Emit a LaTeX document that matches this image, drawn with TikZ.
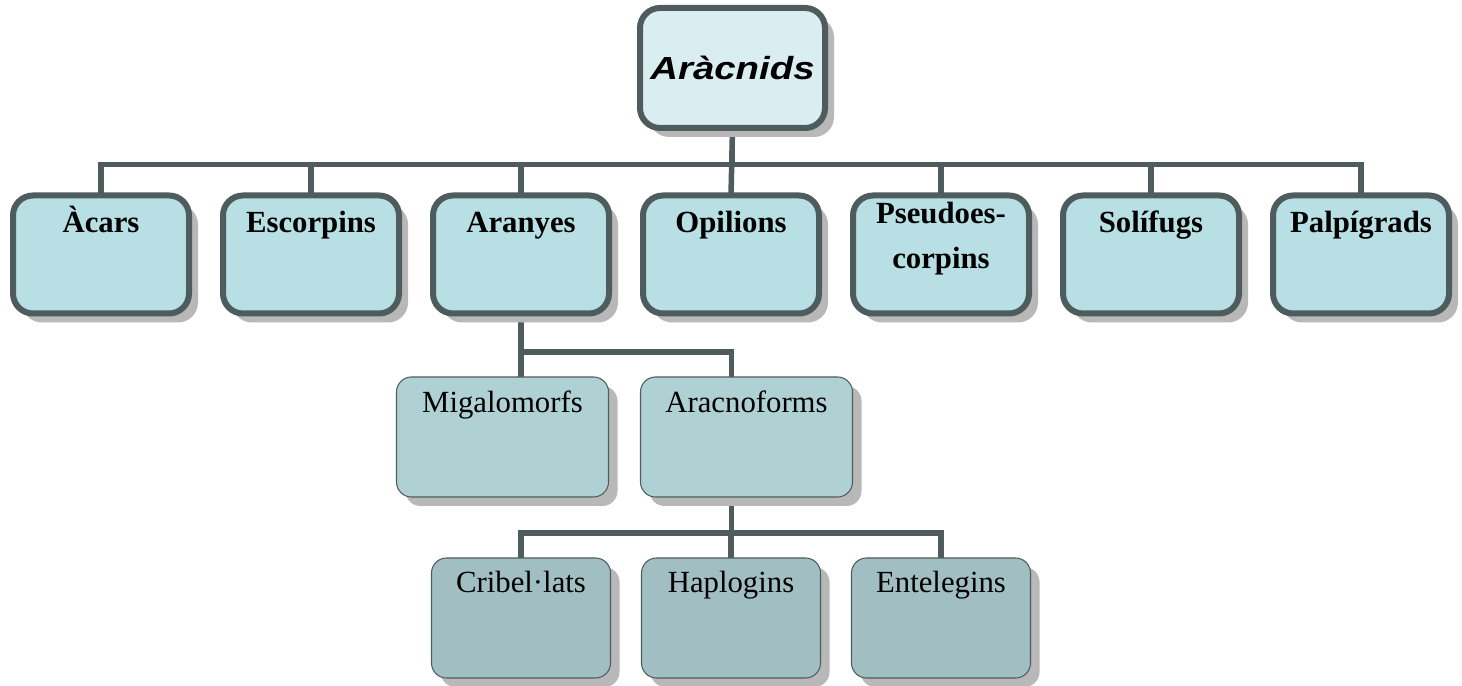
\documentclass[tikz,border=0pt]{standalone}
\usepackage{xcolor}
\usepackage{fontspec}
\setmainfont{Liberation Serif}
\newfontfamily\arialfont[FakeStretch=1.2]{Liberation Sans}
\usepackage{tikz}
\usetikzlibrary{shapes,positioning,calc,shadows,backgrounds}

\definecolor{framegray}{RGB}{78,92,93}
\definecolor{topfill}{RGB}{218,238,241}
\definecolor{ordfill}{RGB}{184,224,228}
\definecolor{subfill}{RGB}{175,209,212}
\definecolor{infrafill}{RGB}{161,191,194}

\begin{document}
\begin{tikzpicture}[
    boxshadow/.style={drop shadow={shadow xshift=0.18cm, shadow yshift=-0.18cm, fill=black!28, opacity=1}},
    classbox/.style={rectangle, rounded corners=0.4cm, draw=framegray, line width=0.12cm, fill=topfill, boxshadow, outer sep=0pt, minimum width=3.7cm, minimum height=2.4cm, font=\arialfont\bfseries\itshape\fontsize{18.2}{22}\selectfont},
    orderbox/.style={rectangle, rounded corners=0.4cm, draw=framegray, line width=0.12cm, fill=ordfill, boxshadow, outer sep=0pt, minimum width=3.52cm, inner ysep=0pt, text height=0.74cm, text depth=1.62cm, align=center, font=\bfseries\fontsize{17.5}{25.5}\selectfont},
    subbox/.style={rectangle, rounded corners=0.3cm, draw=framegray, line width=0.6pt, fill=subfill, boxshadow, outer sep=0pt, minimum width=4.24cm, inner ysep=0pt, text height=0.72cm, text depth=1.68cm, font=\fontsize{17.5}{21}\selectfont},
    infrabox/.style={subbox, fill=infrafill, minimum width=3.58cm, text height=0.70cm, text depth=1.70cm},
    link/.style={draw=framegray, line width=0.11cm}
]
    \useasboundingbox (0,0) rectangle (29.24,13.72);

    % class
    \node[classbox] (aracnids) at (14.65,12.36) {Aràcnids};

    % orders
    \node[orderbox] (acars) at (2.02,8.63) {Àcars};
    \node[orderbox, right=0.68cm of acars] (escorpins) {Escorpins};
    \node[orderbox, right=0.68cm of escorpins] (aranyes) {Aranyes};
    \node[orderbox, right=0.68cm of aranyes] (opilions) {Opilions};
    \node[orderbox, right=0.68cm of opilions, text height=1.46cm, text depth=0.9cm] (pseudo) {Pseudoes-\\corpins};
    \node[orderbox, right=0.68cm of pseudo] (solifugs) {Solífugs};
    \node[orderbox, right=0.68cm of solifugs] (palpigrads) {Palpígrads};

    % suborders of the spiders
    \node[subbox] (migalo) at (10.05,4.98) {Migalomorfs};
    \node[subbox, right=0.64cm of migalo] (aracno) {Aracnoforms};

    % groups of the aracnoforms
    \node[infrabox] (cribel) at (10.42,1.36) {Cribel·lats};
    \node[infrabox, right=0.62cm of cribel] (haplo) {Haplogins};
    \node[infrabox, right=0.62cm of haplo] (entel) {Entelegins};

    % connectors
    \begin{scope}[on background layer]
    \draw[link] (aracnids.south) -- +(0,-0.73) -| (acars.north);
    \draw[link] (aracnids.south) -- +(0,-0.73) -| (escorpins.north);
    \draw[link] (aracnids.south) -- +(0,-0.73) -| (aranyes.north);
    \draw[link] (aracnids.south) -- (opilions.north);
    \draw[link] (aracnids.south) -- +(0,-0.73) -| (pseudo.north);
    \draw[link] (aracnids.south) -- +(0,-0.73) -| (solifugs.north);
    \draw[link] (aracnids.south) -- +(0,-0.73) -| (palpigrads.north);

    \draw[link] (aranyes.south) -- (aranyes.south |- migalo.north);
    \draw[link] (aranyes.south) -- +(0,-0.77) -| ([xshift=-0.3cm]aracno.north);

    \draw[link] ([xshift=-0.3cm]aracno.south) -- +(0,-0.72) -| (cribel.north);
    \draw[link] ([xshift=-0.3cm]aracno.south) -- +(0,-0.72) -| (haplo.north);
    \draw[link] ([xshift=-0.3cm]aracno.south) -- +(0,-0.72) -| (entel.north);
    \end{scope}
\end{tikzpicture}
\end{document}
